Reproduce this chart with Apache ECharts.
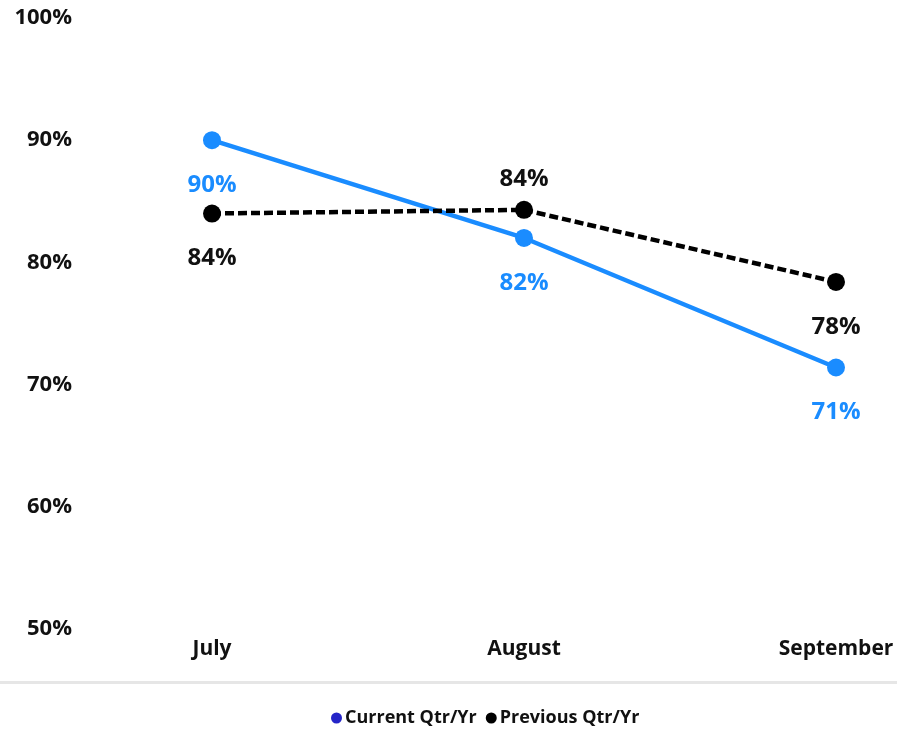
<!DOCTYPE html>
<html>
<head>
<meta charset="utf-8">
<title>Qtr/Yr comparison</title>
<script src="https://cdn.jsdelivr.net/npm/echarts@6/dist/echarts.min.js"></script>
<style>
  html, body { margin: 0; padding: 0; background: #ffffff; }
  #chart { width: 897px; height: 730px; }
</style>
</head>
<body>
<div id="chart"></div>
<script>
// Monthly values, in percent
const months = ['July', 'August', 'September'];
const currentQtr = [90, 82, 71.4];
const previousQtr = [84, 84.3, 78.4];
const yTicks = [50, 60, 70, 80, 90, 100];
const seriesNames = ['Current Qtr/Yr', 'Previous Qtr/Yr'];

const FONT = '"Open Sans", "Noto Sans", sans-serif';
const BLUE = '#1a8cff';

// Data labels sit under each point, except where the lines cross near the top
function buildPoints(values, abovePoints, color) {
  return values.map((v, i) => {
    const above = abovePoints.includes(i);
    return {
      value: v,
      label: {
        position: above ? 'top' : 'bottom',
        distance: above ? 10 : 24,
        color: color
      }
    };
  });
}

const chart = echarts.init(document.getElementById('chart'), null, { renderer: 'canvas' });

chart.setOption({
  backgroundColor: '#ffffff',
  animation: false,
  grid: { left: 212, right: 61, top: 18, bottom: 101 },
  xAxis: {
    type: 'category',
    data: months,
    boundaryGap: false,
    axisLine: { show: false },
    axisTick: { show: false },
    splitLine: { show: false },
    axisLabel: {
      margin: 10,
      fontFamily: FONT,
      fontWeight: 'bold',
      fontSize: 21,
      color: '#111111'
    }
  },
  yAxis: {
    type: 'value',
    min: yTicks[0],
    max: yTicks[yTicks.length - 1],
    interval: yTicks[1] - yTicks[0],
    axisLine: { show: false },
    axisTick: { show: false },
    splitLine: { show: false },
    axisLabel: {
      align: 'right',
      margin: 140,
      fontFamily: FONT,
      fontWeight: 'bold',
      fontSize: 22,
      color: '#111111',
      formatter: v => v + '%'
    }
  },
  legend: {
    top: 704,
    left: 326,
    icon: 'circle',
    itemWidth: 11,
    itemHeight: 11,
    itemGap: 9,
    textStyle: {
      fontFamily: FONT,
      fontWeight: 'bold',
      fontSize: 18,
      color: '#111111',
      padding: [0, 0, 0, -2]
    },
    data: [
      { name: seriesNames[0], itemStyle: { color: '#2525c8' } },
      { name: seriesNames[1], itemStyle: { color: '#000000' } }
    ]
  },
  graphic: [{
    type: 'rect',
    left: 0,
    top: 681,
    shape: { width: 897, height: 3 },
    style: { fill: '#e6e6e6' },
    silent: true
  }],
  series: [
    {
      name: seriesNames[0],
      type: 'line',
      data: buildPoints(currentQtr, [], BLUE),
      symbol: 'circle',
      symbolSize: 18,
      itemStyle: { color: BLUE },
      lineStyle: { color: BLUE, width: 4.5 },
      label: {
        show: true,
        fontFamily: FONT,
        fontWeight: 'bold',
        fontSize: 24,
        formatter: p => Math.round(p.value) + '%'
      },
      z: 3
    },
    {
      name: seriesNames[1],
      type: 'line',
      data: buildPoints(previousQtr, [1], '#111111'),
      symbol: 'circle',
      symbolSize: 18,
      itemStyle: { color: '#000000' },
      lineStyle: { color: '#000000', width: 4.5, type: [9, 4] },
      label: {
        show: true,
        fontFamily: FONT,
        fontWeight: 'bold',
        fontSize: 24,
        formatter: p => Math.round(p.value) + '%'
      },
      z: 4
    }
  ]
});
</script>
</body>
</html>
